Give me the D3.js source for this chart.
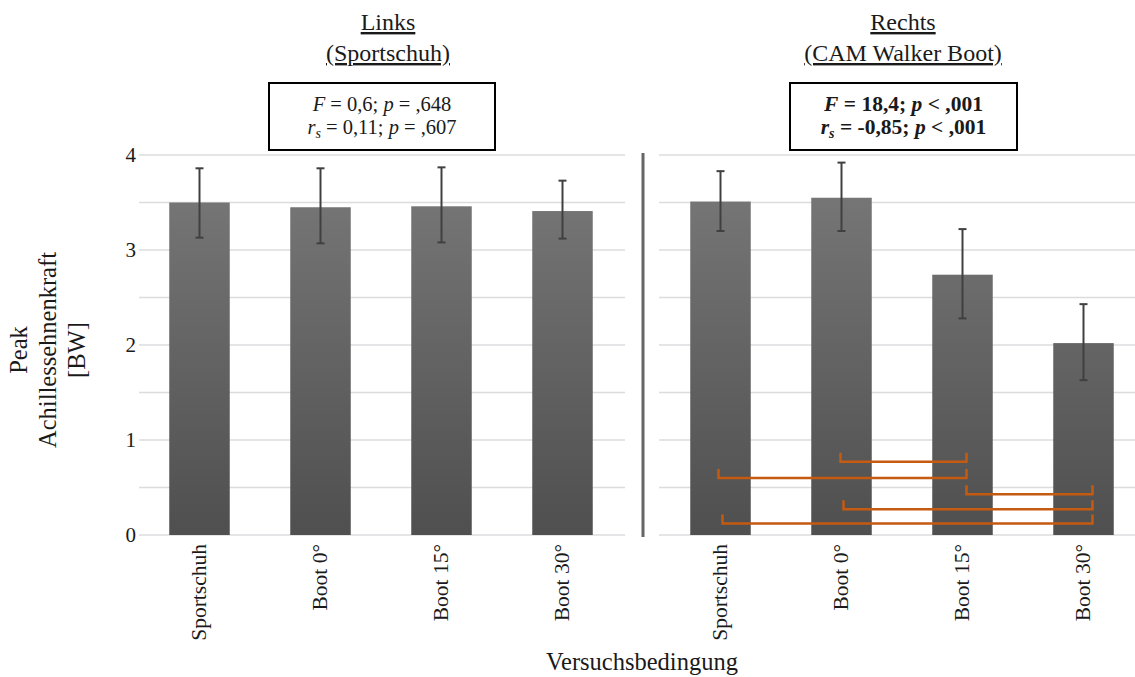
<!DOCTYPE html>
<html><head><meta charset="utf-8">
<script src="https://cdn.jsdelivr.net/npm/d3@7"></script>
<style>body{margin:0;background:#fff}svg{display:block}text{font-family:"Liberation Serif","DejaVu Serif",serif;fill:#1a1a1a}</style>
</head><body><svg id="c" width="1135" height="677"></svg>
<script>
const categories = ["Sportschuh","Boot 0°","Boot 15°","Boot 30°"];
const leftMeans = [3.50, 3.45, 3.46, 3.41];
const leftUpper = [3.86, 3.86, 3.87, 3.73];
const leftLower = [3.13, 3.07, 3.08, 3.12];
const rightMeans = [3.51, 3.55, 2.74, 2.02];
const rightUpper = [3.83, 3.92, 3.22, 2.43];
const rightLower = [3.20, 3.20, 2.28, 1.63];
const yTicks = [0,1,2,3,4];
const gridValues = [0,0.5,1,1.5,2,2.5,3,3.5,4];
// significance brackets (category indices) — right panel
const brackets = [[1,2],[0,2],[2,3],[1,3],[0,3]];
const bracketLevels = [0.77, 0.60, 0.43, 0.27, 0.12];

const svg = d3.select("#c");
const y = d3.scaleLinear().domain([0,4]).range([535,155]);
const xL = d3.scaleBand().domain(categories).range([139,623]).paddingInner(0.5).paddingOuter(0.25);
const xR = d3.scaleBand().domain(categories).range([660,1144]).paddingInner(0.5).paddingOuter(0.25);

const defs = svg.append("defs");
const g = defs.append("linearGradient").attr("id","bg").attr("gradientUnits","userSpaceOnUse")
  .attr("x1",0).attr("x2",0).attr("y1",y(4)).attr("y2",y(0));
g.append("stop").attr("offset","0%").attr("stop-color","#7a7a7a");
g.append("stop").attr("offset","100%").attr("stop-color","#4f4f4f");

function grid(x0,x1){
  svg.append("g").selectAll("line").data(gridValues).join("line")
    .attr("x1",x0).attr("x2",x1).attr("y1",d=>y(d)).attr("y2",d=>y(d))
    .attr("stroke","#dcdcdf").attr("stroke-width",1.5);
}
grid(139,625); grid(659,1135);

const yAxis = d3.axisLeft(y).tickValues(yTicks).tickSize(0).tickPadding(0).tickFormat(d3.format("d"));
const ya = svg.append("g").attr("transform","translate(136,0)").call(yAxis);
ya.select(".domain").remove();
ya.selectAll("text").style("font-size","21px").attr("fill","#333").attr("dy","0.32em");

svg.append("line").attr("x1",643).attr("x2",643).attr("y1",153).attr("y2",537)
  .attr("stroke","#666").attr("stroke-width",3);

function panel(x, means, up, lo){
  svg.append("g").selectAll("rect").data(categories).join("rect")
    .attr("x",d=>x(d)).attr("width",x.bandwidth())
    .attr("y",(d,i)=>y(means[i])).attr("height",(d,i)=>y(0)-y(means[i]))
    .attr("fill","url(#bg)");
  const e = svg.append("g").attr("stroke","#404040").attr("stroke-width",2);
  categories.forEach((c,i)=>{
    const cx = x(c)+x.bandwidth()/2;
    e.append("line").attr("x1",cx).attr("x2",cx).attr("y1",y(up[i])).attr("y2",y(lo[i]));
    e.append("line").attr("x1",cx-4).attr("x2",cx+4).attr("y1",y(up[i])).attr("y2",y(up[i]));
    e.append("line").attr("x1",cx-4).attr("x2",cx+4).attr("y1",y(lo[i])).attr("y2",y(lo[i]));
  });
  const xa = svg.append("g").attr("transform","translate(0,544)")
    .call(d3.axisBottom(x).tickSize(0).tickPadding(0));
  xa.select(".domain").remove();
  xa.selectAll("text").attr("transform","rotate(-90)").attr("text-anchor","end")
    .attr("x",0).attr("y",0).attr("dy","0.3em").style("font-size","21.5px").attr("fill","#1a1a1a");
}
panel(xL,leftMeans,leftUpper,leftLower);
panel(xR,rightMeans,rightUpper,rightLower);

// brackets
const startOff = [-1,-2,4,2,2];
const endOff = [4,4,9,9,9];
const bg2 = svg.append("g").attr("fill","none").attr("stroke","#c55a11").attr("stroke-width",2.5);
brackets.forEach((b,i)=>{
  const xa = xR(categories[b[0]])+xR.bandwidth()/2 + startOff[i];
  const xb = xR(categories[b[1]])+xR.bandwidth()/2 + endOff[i];
  const yy = y(bracketLevels[i]);
  bg2.append("path").attr("d",`M${xa},${yy-9}V${yy}H${xb}V${yy-9}`);
});

function title(cx, l1, l2){
  svg.append("text").attr("x",cx).attr("y",30).attr("text-anchor","middle")
    .style("font-size","24px").style("text-decoration","underline").text(l1);
  svg.append("text").attr("x",cx).attr("y",61).attr("text-anchor","middle")
    .style("font-size","24px").style("text-decoration","underline").text(l2);
}
title(388,"Links","(Sportschuh)");
title(903,"Rechts","(CAM Walker Boot)");

function box(x0,x1,lines,bold){
  svg.append("rect").attr("x",x0).attr("y",83).attr("width",x1-x0).attr("height",67)
    .attr("fill","#fff").attr("stroke","#000").attr("stroke-width",2);
  lines.forEach((parts,li)=>{
    const t = svg.append("text").attr("x",(x0+x1)/2).attr("y",li===0?111:134)
      .attr("text-anchor","middle").style("font-size",bold?"21.5px":"20.5px").style("font-weight",bold?"bold":"normal");
    parts.forEach(p=>{
      const ts = t.append("tspan").text(p[0]);
      if(p[1]==="i") ts.style("font-style","italic");
      if(p[1]==="sub") { ts.style("font-style","italic").style("font-size","14px").attr("dy","4"); }
      if(p[1]==="after") ts.attr("dy","-4");
    });
  });
}
box(269,495,[
  [["F","i"],[" = 0,6; "],["p","i"],[" = ,648"]],
  [["r","i"],["s","sub"],[" = 0,11; ","after"],["p","i"],[" = ,607"]]
],false);
box(790,1017,[
  [["F","i"],[" = 18,4; "],["p","i"],[" < ,001"]],
  [["r","i"],["s","sub"],[" = -0,85; ","after"],["p","i"],[" < ,001"]]
],true);

svg.append("text").attr("x",642).attr("y",670).attr("text-anchor","middle")
  .style("font-size","24.5px").text("Versuchsbedingung");
const yl = svg.append("text").attr("transform","translate(0,350) rotate(-90)").attr("text-anchor","middle")
  .style("font-size","24.5px");
["Peak","Achillessehnenkraft","[BW]"].forEach((s,i)=>{
  yl.append("tspan").attr("x",0).attr("y",27+i*29).text(s);
});
</script></body></html>
